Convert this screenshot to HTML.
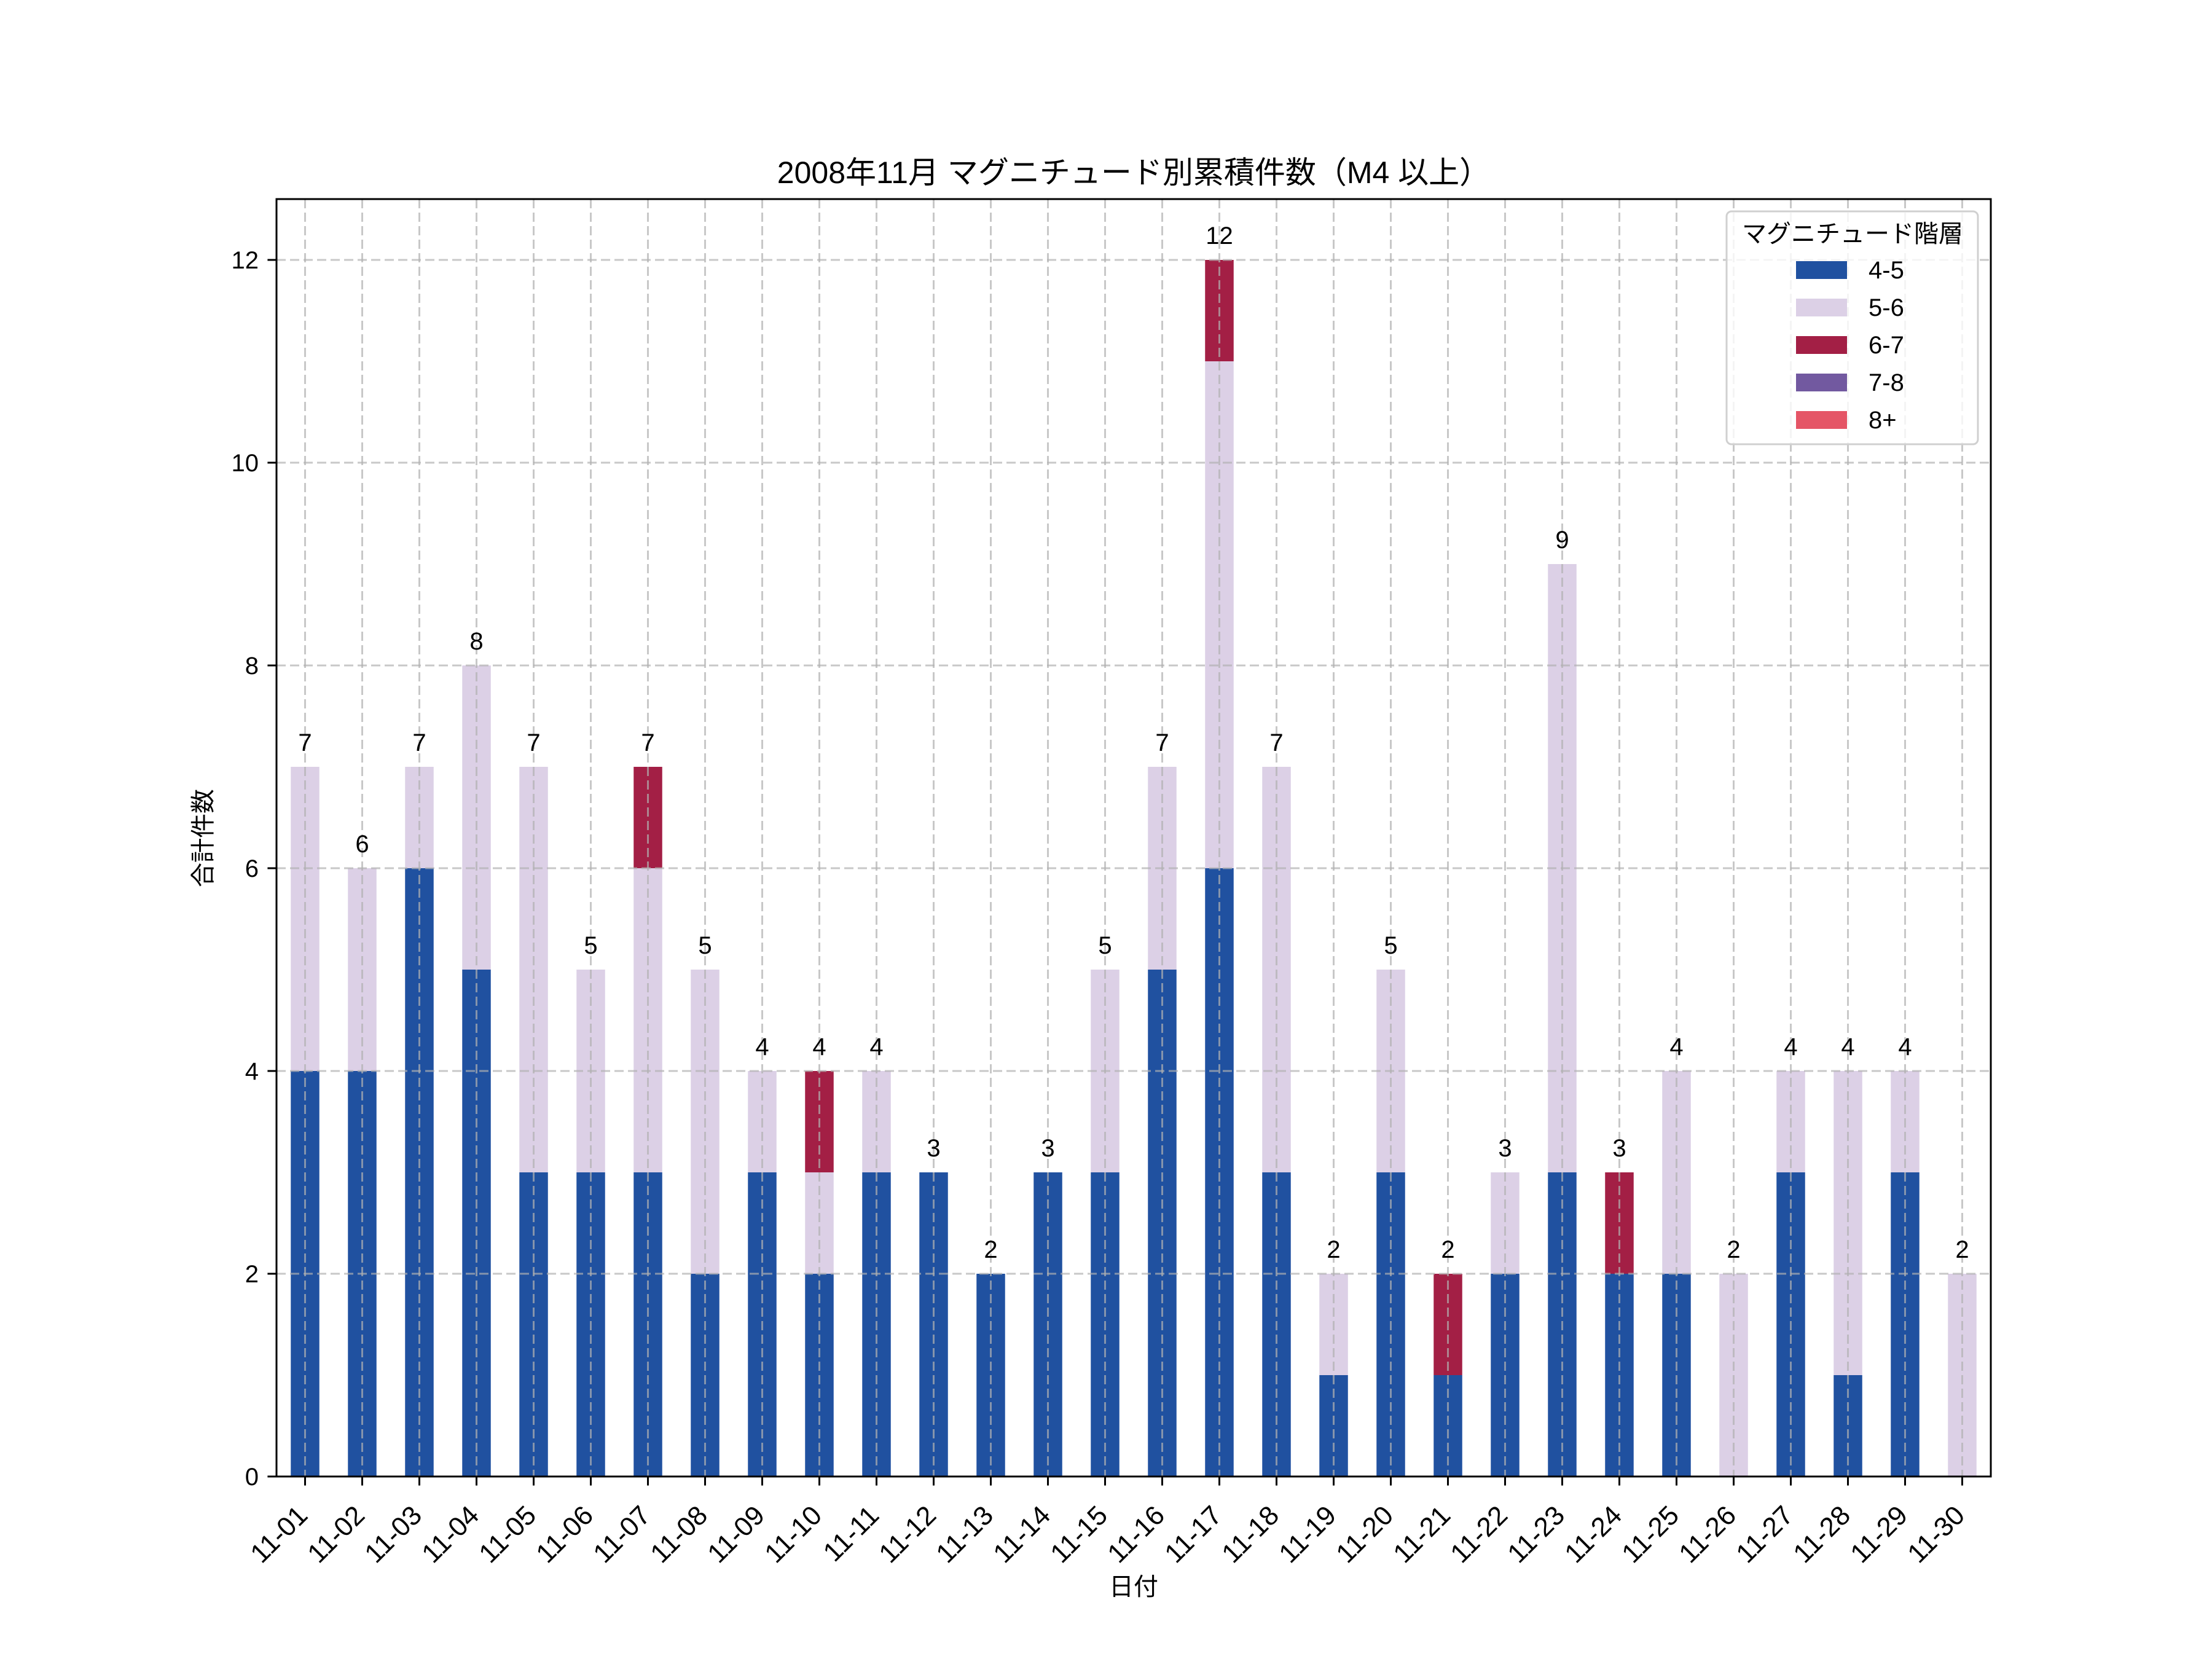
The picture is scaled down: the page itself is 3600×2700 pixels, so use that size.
<!DOCTYPE html>
<html><head><meta charset="utf-8"><style>
html,body{margin:0;padding:0;background:#fff;}
svg{display:block;}
text{font-family:"Liberation Sans","Noto Sans CJK JP",sans-serif;fill:#000;}
</style></head><body>
<svg width="3600" height="2700" viewBox="0 0 3600 2700" xmlns="http://www.w3.org/2000/svg">
<rect width="3600" height="2700" fill="#fff"/>
<g id="bars">
<g transform="translate(496.5,0)"><rect x="-23.25" y="1743" width="46.5" height="660" fill="#2051a0"/><rect x="-23.25" y="1248" width="46.5" height="495" fill="#dcd0e6"/></g>
<g transform="translate(589.5,0)"><rect x="-23.25" y="1743" width="46.5" height="660" fill="#2051a0"/><rect x="-23.25" y="1413" width="46.5" height="330" fill="#dcd0e6"/></g>
<g transform="translate(682.5,0)"><rect x="-23.25" y="1413" width="46.5" height="990" fill="#2051a0"/><rect x="-23.25" y="1248" width="46.5" height="165" fill="#dcd0e6"/></g>
<g transform="translate(775.5,0)"><rect x="-23.25" y="1578" width="46.5" height="825" fill="#2051a0"/><rect x="-23.25" y="1083" width="46.5" height="495" fill="#dcd0e6"/></g>
<g transform="translate(868.5,0)"><rect x="-23.25" y="1908" width="46.5" height="495" fill="#2051a0"/><rect x="-23.25" y="1248" width="46.5" height="660" fill="#dcd0e6"/></g>
<g transform="translate(961.5,0)"><rect x="-23.25" y="1908" width="46.5" height="495" fill="#2051a0"/><rect x="-23.25" y="1578" width="46.5" height="330" fill="#dcd0e6"/></g>
<g transform="translate(1054.5,0)"><rect x="-23.25" y="1908" width="46.5" height="495" fill="#2051a0"/><rect x="-23.25" y="1413" width="46.5" height="495" fill="#dcd0e6"/><rect x="-23.25" y="1248" width="46.5" height="165" fill="#a31f45"/></g>
<g transform="translate(1147.5,0)"><rect x="-23.25" y="2073" width="46.5" height="330" fill="#2051a0"/><rect x="-23.25" y="1578" width="46.5" height="495" fill="#dcd0e6"/></g>
<g transform="translate(1240.5,0)"><rect x="-23.25" y="1908" width="46.5" height="495" fill="#2051a0"/><rect x="-23.25" y="1743" width="46.5" height="165" fill="#dcd0e6"/></g>
<g transform="translate(1333.5,0)"><rect x="-23.25" y="2073" width="46.5" height="330" fill="#2051a0"/><rect x="-23.25" y="1908" width="46.5" height="165" fill="#dcd0e6"/><rect x="-23.25" y="1743" width="46.5" height="165" fill="#a31f45"/></g>
<g transform="translate(1426.5,0)"><rect x="-23.25" y="1908" width="46.5" height="495" fill="#2051a0"/><rect x="-23.25" y="1743" width="46.5" height="165" fill="#dcd0e6"/></g>
<g transform="translate(1519.5,0)"><rect x="-23.25" y="1908" width="46.5" height="495" fill="#2051a0"/></g>
<g transform="translate(1612.5,0)"><rect x="-23.25" y="2073" width="46.5" height="330" fill="#2051a0"/></g>
<g transform="translate(1705.5,0)"><rect x="-23.25" y="1908" width="46.5" height="495" fill="#2051a0"/></g>
<g transform="translate(1798.5,0)"><rect x="-23.25" y="1908" width="46.5" height="495" fill="#2051a0"/><rect x="-23.25" y="1578" width="46.5" height="330" fill="#dcd0e6"/></g>
<g transform="translate(1891.5,0)"><rect x="-23.25" y="1578" width="46.5" height="825" fill="#2051a0"/><rect x="-23.25" y="1248" width="46.5" height="330" fill="#dcd0e6"/></g>
<g transform="translate(1984.5,0)"><rect x="-23.25" y="1413" width="46.5" height="990" fill="#2051a0"/><rect x="-23.25" y="588" width="46.5" height="825" fill="#dcd0e6"/><rect x="-23.25" y="423" width="46.5" height="165" fill="#a31f45"/></g>
<g transform="translate(2077.5,0)"><rect x="-23.25" y="1908" width="46.5" height="495" fill="#2051a0"/><rect x="-23.25" y="1248" width="46.5" height="660" fill="#dcd0e6"/></g>
<g transform="translate(2170.5,0)"><rect x="-23.25" y="2238" width="46.5" height="165" fill="#2051a0"/><rect x="-23.25" y="2073" width="46.5" height="165" fill="#dcd0e6"/></g>
<g transform="translate(2263.5,0)"><rect x="-23.25" y="1908" width="46.5" height="495" fill="#2051a0"/><rect x="-23.25" y="1578" width="46.5" height="330" fill="#dcd0e6"/></g>
<g transform="translate(2356.5,0)"><rect x="-23.25" y="2238" width="46.5" height="165" fill="#2051a0"/><rect x="-23.25" y="2073" width="46.5" height="165" fill="#a31f45"/></g>
<g transform="translate(2449.5,0)"><rect x="-23.25" y="2073" width="46.5" height="330" fill="#2051a0"/><rect x="-23.25" y="1908" width="46.5" height="165" fill="#dcd0e6"/></g>
<g transform="translate(2542.5,0)"><rect x="-23.25" y="1908" width="46.5" height="495" fill="#2051a0"/><rect x="-23.25" y="918" width="46.5" height="990" fill="#dcd0e6"/></g>
<g transform="translate(2635.5,0)"><rect x="-23.25" y="2073" width="46.5" height="330" fill="#2051a0"/><rect x="-23.25" y="1908" width="46.5" height="165" fill="#a31f45"/></g>
<g transform="translate(2728.5,0)"><rect x="-23.25" y="2073" width="46.5" height="330" fill="#2051a0"/><rect x="-23.25" y="1743" width="46.5" height="330" fill="#dcd0e6"/></g>
<g transform="translate(2821.5,0)"><rect x="-23.25" y="2073" width="46.5" height="330" fill="#dcd0e6"/></g>
<g transform="translate(2914.5,0)"><rect x="-23.25" y="1908" width="46.5" height="495" fill="#2051a0"/><rect x="-23.25" y="1743" width="46.5" height="165" fill="#dcd0e6"/></g>
<g transform="translate(3007.5,0)"><rect x="-23.25" y="2238" width="46.5" height="165" fill="#2051a0"/><rect x="-23.25" y="1743" width="46.5" height="495" fill="#dcd0e6"/></g>
<g transform="translate(3100.5,0)"><rect x="-23.25" y="1908" width="46.5" height="495" fill="#2051a0"/><rect x="-23.25" y="1743" width="46.5" height="165" fill="#dcd0e6"/></g>
<g transform="translate(3193.5,0)"><rect x="-23.25" y="2073" width="46.5" height="330" fill="#dcd0e6"/></g>
</g>
<g stroke="#b0b0b0" stroke-opacity="0.7" stroke-width="3" stroke-dasharray="15,7" fill="none">
<path d="M450 2073H3240M450 1743H3240M450 1413H3240M450 1083H3240M450 753H3240M450 423H3240"/>
<path d="M496.5 324V2403M589.5 324V2403M682.5 324V2403M775.5 324V2403M868.5 324V2403M961.5 324V2403M1054.5 324V2403M1147.5 324V2403M1240.5 324V2403M1333.5 324V2403M1426.5 324V2403M1519.5 324V2403M1612.5 324V2403M1705.5 324V2403M1798.5 324V2403M1891.5 324V2403M1984.5 324V2403M2077.5 324V2403M2170.5 324V2403M2263.5 324V2403M2356.5 324V2403M2449.5 324V2403M2542.5 324V2403M2635.5 324V2403M2728.5 324V2403M2821.5 324V2403M2914.5 324V2403M3007.5 324V2403M3100.5 324V2403M3193.5 324V2403"/>
</g>
<g font-size="40" text-anchor="middle">
<text x="496.5" y="1222">7</text><text x="589.5" y="1387">6</text><text x="682.5" y="1222">7</text><text x="775.5" y="1057">8</text><text x="868.5" y="1222">7</text><text x="961.5" y="1552">5</text><text x="1054.5" y="1222">7</text><text x="1147.5" y="1552">5</text><text x="1240.5" y="1717">4</text><text x="1333.5" y="1717">4</text><text x="1426.5" y="1717">4</text><text x="1519.5" y="1882">3</text><text x="1612.5" y="2047">2</text><text x="1705.5" y="1882">3</text><text x="1798.5" y="1552">5</text><text x="1891.5" y="1222">7</text><text x="1984.5" y="397">12</text><text x="2077.5" y="1222">7</text><text x="2170.5" y="2047">2</text><text x="2263.5" y="1552">5</text><text x="2356.5" y="2047">2</text><text x="2449.5" y="1882">3</text><text x="2542.5" y="892">9</text><text x="2635.5" y="1882">3</text><text x="2728.5" y="1717">4</text><text x="2821.5" y="2047">2</text><text x="2914.5" y="1717">4</text><text x="3007.5" y="1717">4</text><text x="3100.5" y="1717">4</text><text x="3193.5" y="2047">2</text>
</g>
<rect x="450" y="324" width="2790" height="2079" fill="none" stroke="#000" stroke-width="3"/>
<g stroke="#000" stroke-width="3">
<path d="M450 2403h-14.6M450 2073h-14.6M450 1743h-14.6M450 1413h-14.6M450 1083h-14.6M450 753h-14.6M450 423h-14.6"/>
<path d="M496.5 2403v14.6M589.5 2403v14.6M682.5 2403v14.6M775.5 2403v14.6M868.5 2403v14.6M961.5 2403v14.6M1054.5 2403v14.6M1147.5 2403v14.6M1240.5 2403v14.6M1333.5 2403v14.6M1426.5 2403v14.6M1519.5 2403v14.6M1612.5 2403v14.6M1705.5 2403v14.6M1798.5 2403v14.6M1891.5 2403v14.6M1984.5 2403v14.6M2077.5 2403v14.6M2170.5 2403v14.6M2263.5 2403v14.6M2356.5 2403v14.6M2449.5 2403v14.6M2542.5 2403v14.6M2635.5 2403v14.6M2728.5 2403v14.6M2821.5 2403v14.6M2914.5 2403v14.6M3007.5 2403v14.6M3100.5 2403v14.6M3193.5 2403v14.6"/>
</g>
<g font-size="40" text-anchor="end">
<text x="421" y="2417">0</text><text x="421" y="2087">2</text><text x="421" y="1757">4</text><text x="421" y="1427">6</text><text x="421" y="1097">8</text><text x="421" y="767">10</text><text x="421" y="437">12</text>
</g>
<g font-size="44" text-anchor="end">
<text transform="translate(503,2469) rotate(-45)">11-01</text>
<text transform="translate(596,2469) rotate(-45)">11-02</text>
<text transform="translate(689,2469) rotate(-45)">11-03</text>
<text transform="translate(782,2469) rotate(-45)">11-04</text>
<text transform="translate(875,2469) rotate(-45)">11-05</text>
<text transform="translate(968,2469) rotate(-45)">11-06</text>
<text transform="translate(1061,2469) rotate(-45)">11-07</text>
<text transform="translate(1154,2469) rotate(-45)">11-08</text>
<text transform="translate(1247,2469) rotate(-45)">11-09</text>
<text transform="translate(1340,2469) rotate(-45)">11-10</text>
<text transform="translate(1433,2469) rotate(-45)">11-11</text>
<text transform="translate(1526,2469) rotate(-45)">11-12</text>
<text transform="translate(1619,2469) rotate(-45)">11-13</text>
<text transform="translate(1712,2469) rotate(-45)">11-14</text>
<text transform="translate(1805,2469) rotate(-45)">11-15</text>
<text transform="translate(1898,2469) rotate(-45)">11-16</text>
<text transform="translate(1991,2469) rotate(-45)">11-17</text>
<text transform="translate(2084,2469) rotate(-45)">11-18</text>
<text transform="translate(2177,2469) rotate(-45)">11-19</text>
<text transform="translate(2270,2469) rotate(-45)">11-20</text>
<text transform="translate(2363,2469) rotate(-45)">11-21</text>
<text transform="translate(2456,2469) rotate(-45)">11-22</text>
<text transform="translate(2549,2469) rotate(-45)">11-23</text>
<text transform="translate(2642,2469) rotate(-45)">11-24</text>
<text transform="translate(2735,2469) rotate(-45)">11-25</text>
<text transform="translate(2828,2469) rotate(-45)">11-26</text>
<text transform="translate(2921,2469) rotate(-45)">11-27</text>
<text transform="translate(3014,2469) rotate(-45)">11-28</text>
<text transform="translate(3107,2469) rotate(-45)">11-29</text>
<text transform="translate(3200,2469) rotate(-45)">11-30</text>
</g>
<text x="1845" y="2596" font-size="40" text-anchor="middle">日付</text>
<text transform="translate(344,1364) rotate(-90)" font-size="40" text-anchor="middle">合計件数</text>
<text x="1845" y="298" font-size="50" text-anchor="middle">2008年11月 マグニチュード別累積件数（M4 以上）</text>
<rect x="2810" y="344" width="409" height="379" rx="8" fill="#fff" fill-opacity="0.8" stroke="#d0d0d0" stroke-width="3"/>
<text x="3015" y="394" font-size="40" text-anchor="middle">マグニチュード階層</text>
<rect x="2923" y="425" width="83" height="29" fill="#2051a0"/>
<rect x="2923" y="486" width="83" height="29" fill="#dcd0e6"/>
<rect x="2923" y="547" width="83" height="29" fill="#a31f45"/>
<rect x="2923" y="608" width="83" height="29" fill="#7259a0"/>
<rect x="2923" y="669" width="83" height="29" fill="#e55566"/>
<g font-size="40">
<text x="3041" y="453">4-5</text>
<text x="3041" y="514">5-6</text>
<text x="3041" y="575">6-7</text>
<text x="3041" y="636">7-8</text>
<text x="3041" y="697">8+</text>
</g>
</svg>
</body></html>
